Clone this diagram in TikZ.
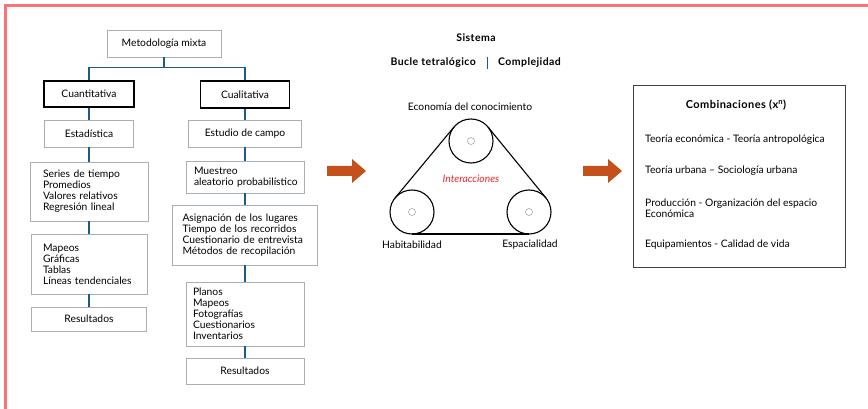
\documentclass[tikz,border=0pt]{standalone}
\usepackage{fontspec}
\setmainfont{Lato}
\usetikzlibrary{calc}
\definecolor{frame}{RGB}{255,112,112}
\definecolor{boxline}{RGB}{165,176,184}
\definecolor{link}{RGB}{30,90,135}
\definecolor{arrowor}{RGB}{197,80,26}
\definecolor{interred}{RGB}{235,40,40}
\newcommand{\heavy}[1]{\fontsize{#1}{13}\bfseries\addfontfeature{LetterSpace=4}}
\tikzset{
  txt/.style={font=\fontsize{10.3}{11}\selectfont, inner sep=0pt},
  box/.style={draw=boxline, line width=0.8pt, fill=white, txt, align=center},
  boldbox/.style={draw=black, line width=1.8pt, fill=white, txt, align=center},
  listbox/.style={box, align=left, execute at begin node={\hyphenpenalty=10000\exhyphenpenalty=10000}},
  linkline/.style={draw=link, line width=1.4pt},
  pulley/.style={draw=black, line width=1.1pt, circle, minimum size=44pt, inner sep=0pt},
  hub/.style={draw=black!35, line width=0.6pt, circle, minimum size=7pt, inner sep=0pt},
  belt/.style={draw=black, line width=1.1pt},
  bigarrow/.style={fill=arrowor, draw=none},
}
\begin{document}
\begin{tikzpicture}[x=1pt,y=-1pt]
\useasboundingbox (0,0) rectangle (868,409);
% frame
\draw[frame, line width=3pt] (5.5,409) -- (5.5,5.5) -- (868,5.5);

% left tree
\node[box, minimum width=114pt, minimum height=27pt] (met) at (164,43.5) {Metodología mixta};
\node[boldbox, minimum width=90pt, minimum height=26pt] (cuant) at (89,94) {Cuantitativa};
\node[boldbox, minimum width=89pt, minimum height=27pt] (cual) at (245,94.5) {Cualitativa};
\node[box, minimum width=89pt, minimum height=27pt] (est) at (89,133.5) {Estadística};
\node[box, minimum width=113pt, minimum height=27pt] (estc) at (245,133.5) {Estudio de campo};
\node[listbox, text width=92pt, inner xsep=13pt, minimum height=59pt] (ser) at (89,191.5)
  {Series de tiempo\\Promedios\\Valores relativos\\Regresión lineal};
\node[listbox, text width=102pt, inner xsep=8pt, minimum height=32pt] (mue) at (245,177)
  {Muestreo\\aleatorio~probabilístico};
\node[listbox, text width=125pt, inner xsep=10pt, minimum height=60pt] (asi) at (245,235)
  {Asignación de los lugares\\Tiempo de los recorridos\\Cuestionario de entrevista\\Métodos de recopilación};
\node[listbox, text width=92pt, inner xsep=12pt, minimum height=60pt] (map) at (89,264)
  {Mapeos\\Gráficas\\Tablas\\Líneas tendenciales};
\node[box, minimum width=115pt, minimum height=24pt] (resl) at (89,319) {Resultados};
\node[listbox, text width=104pt, inner xsep=7pt, minimum height=64pt] (pla) at (245,314)
  {Planos\\Mapeos\\Fotografías\\Cuestionarios\\Inventarios};
\node[box, minimum width=118pt, minimum height=26pt] (resr) at (245,371) {Resultados};

\coordinate (split) at ($(met.south)+(0,10)$);
\draw[linkline] (met.south) -- (split);
\draw[linkline] (split) -| (cuant.north);
\draw[linkline] (split) -| (cual.north);
\draw[linkline] (cuant.south) -- (est.north);
\draw[linkline] (est.south) -- (ser.north);
\draw[linkline] (ser.south) -- (map.north);
\draw[linkline] (map.south) -- (resl.north);
\draw[linkline] (cual.south) -- (estc.north);
\draw[linkline] (estc.south) -- (mue.north);
\draw[linkline] (mue.south) -- (asi.north);
\draw[linkline] (asi.south) -- (pla.north);
\draw[linkline] (pla.south) -- (resr.north);

% arrows
\fill[bigarrow] (327,166) -- (352,166) -- (352,159) -- (366,171) -- (352,183) -- (352,176) -- (327,176) -- cycle;
\fill[bigarrow] (583,166) -- (608,166) -- (608,159) -- (622,171) -- (608,183) -- (608,176) -- (583,176) -- cycle;

% centre: system
\node[txt, font=\heavy{10.5}] (sis) at (476,38) {Sistema};
\node[txt, font=\heavy{10.5}, anchor=east] (bucle) at (476,63) {Bucle tetralógico};
\node[txt, font=\heavy{10.5}, anchor=west] (comp) at (498,63) {Complejidad};
\draw[link, line width=1.4pt] (487.5,57) -- (487.5,69);

\node[pulley] (pa) at (471,141) {};
\node[pulley] (pb) at (412,212) {};
\node[pulley] (pc) at (529,212) {};
\node[hub] at (pa) {};
\node[hub] at (pb) {};
\node[hub] at (pc) {};
\draw[belt] ($(pa.center)!22pt!-90:(pb.center)$) -- ($(pb.center)!22pt!90:(pa.center)$);
\draw[belt] ($(pa.center)!22pt!90:(pc.center)$) -- ($(pc.center)!22pt!-90:(pa.center)$);
\draw[belt] ($(pb.center)!22pt!-90:(pc.center)$) -- ($(pc.center)!22pt!90:(pb.center)$);

\node[txt] (eco) at (470,107) {Economía del conocimiento};
\node[txt] (hab) at (412,245) {Habitabilidad};
\node[txt] (esp) at (530,245) {Espacialidad};
\node[txt, text=interred, font=\fontsize{10.3}{11}\itshape] (int) at (471,179) {Interacciones};

% right box
\draw[draw=black!75, line width=0.9pt] (633,85) rectangle (845,267);
\node[txt, font=\heavy{11}] (comb) at (736,105) {Combinaciones (x\textsuperscript{n})};
\node[txt, anchor=west] (c1) at (645,140) {Teoría económica - Teoría antropológica};
\node[txt, anchor=west] (c2) at (645,171) {Teoría urbana – Sociología urbana};
\node[txt, anchor=west, align=left] (c3) at (645,208.5) {Producción - Organización del espacio\\Económica};
\node[txt, anchor=west] (c4) at (645,245) {Equipamientos - Calidad de vida};
\end{tikzpicture}
\end{document}
